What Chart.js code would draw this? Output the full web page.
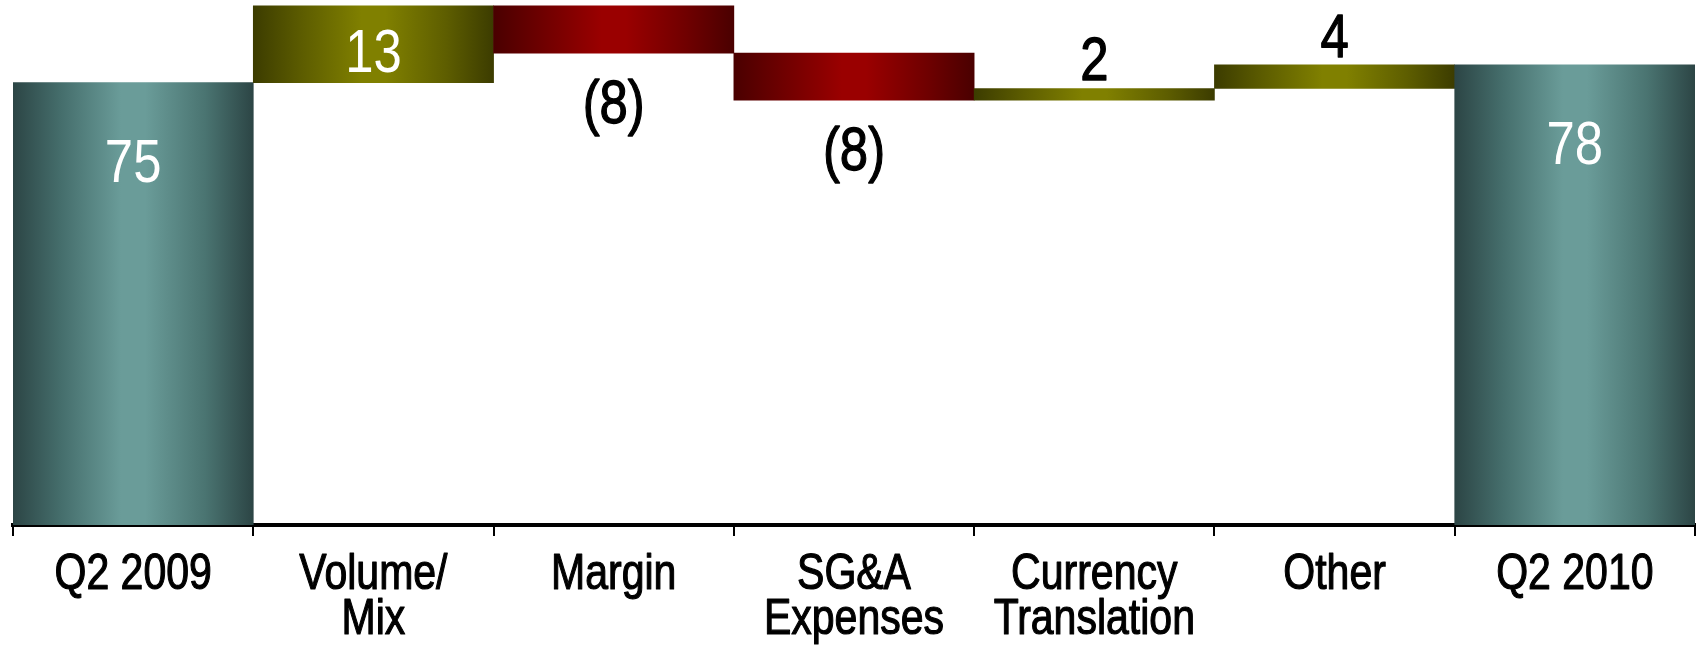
<!DOCTYPE html>
<html>
<head>
<meta charset="utf-8">
<script src="https://cdn.jsdelivr.net/npm/chart.js@4.4.1/dist/chart.umd.min.js"></script>
<style>
  html, body { margin: 0; padding: 0; background: #ffffff; }
  #wrap { width: 1698px; height: 645px; }
</style>
</head>
<body>
<div id="wrap"><canvas id="chart" width="1698" height="645"></canvas></div>
<script>
// Bridge from Q2 2009 to Q2 2010
const categories = [
  ['Q2 2009'],
  ['Volume/', 'Mix'],
  ['Margin'],
  ['SG&A', 'Expenses'],
  ['Currency', 'Translation'],
  ['Other'],
  ['Q2 2010']
];
const openingTotal = 75;
const changes = [13, -8, -8, 2, 4];
const closingTotal = 78;

// Narrow sans: Arial-metric face squeezed horizontally
const FONT = '"Liberation Sans", Arial, sans-serif';
const NARROW = 0.82;

// Floating ranges for the waterfall: totals start at zero, changes stack on the running total
const values = [openingTotal, ...changes, closingTotal];
const kinds = ['total', ...changes.map(v => (v >= 0 ? 'up' : 'down')), 'total'];
const ranges = [];
let running = openingTotal;
ranges.push([0, openingTotal]);
for (const c of changes) {
  ranges.push([running, running + c]);
  running += c;
}
ranges.push([0, closingTotal]);

const palette = {
  total: ['#2c4545', '#456e6c', '#6a9c99', '#6a9c99', '#4a7471', '#2c4545'],
  up:    ['#3c3c00', '#5c5c00', '#808000', '#808000', '#5e5e00', '#3c3c00'],
  down:  ['#4a0000', '#6e0000', '#9a0000', '#9a0000', '#700000', '#4a0000']
};
const stops = [0, 0.2, 0.45, 0.55, 0.8, 1];

function barFill(ctx) {
  const chart = ctx.chart;
  if (!chart.chartArea) return palette[kinds[ctx.dataIndex]][2];
  const xs = chart.scales.x;
  const cx = xs.getPixelForValue(ctx.dataIndex);
  const half = (xs.width / categories.length) / 2;
  const g = chart.ctx.createLinearGradient(cx - half, 0, cx + half, 0);
  const cols = palette[kinds[ctx.dataIndex]];
  stops.forEach((s, i) => g.addColorStop(s, cols[i]));
  return g;
}

function labelText(v) {
  return v < 0 ? '(' + Math.abs(v) + ')' : String(v);
}

// Squeezed text, optionally thickened with a thin outline of the same colour
function narrowText(ctx, text, x, y, weight) {
  ctx.save();
  ctx.translate(x, y);
  ctx.scale(NARROW, 1);
  ctx.fillText(text, 0, 0);
  if (weight) {
    ctx.strokeStyle = ctx.fillStyle;
    ctx.lineWidth = weight;
    ctx.lineJoin = 'round';
    ctx.strokeText(text, 0, 0);
  }
  ctx.restore();
}

// Value labels: totals inside near the top, gains above, losses below
const valueLabels = {
  id: 'valueLabels',
  afterDatasetsDraw(chart) {
    const ctx = chart.ctx;
    const meta = chart.getDatasetMeta(0);
    const digitH = 44.5;
    ctx.save();
    ctx.font = '62px ' + FONT;
    ctx.textAlign = 'center';
    ctx.textBaseline = 'alphabetic';
    meta.data.forEach((bar, i) => {
      const top = Math.min(bar.y, bar.base);
      const bottom = Math.max(bar.y, bar.base);
      const v = values[i];
      let y, color;
      if (kinds[i] === 'total') {
        y = top + 99; color = '#ffffff';
      } else if (v < 0) {
        y = bottom + 25 + digitH; color = '#000000';
      } else if (top - 8 - digitH < chart.chartArea.top) {
        y = (top + bottom) / 2 + 28; color = '#ffffff';
      } else {
        y = top - 8; color = '#000000';
      }
      ctx.fillStyle = color;
      narrowText(ctx, labelText(v), bar.x, y, color === '#000000' ? 1.3 : 0);
    });
    ctx.restore();
  }
};

// Category names under the axis, one line per entry
const categoryLabels = {
  id: 'categoryLabels',
  afterDraw(chart) {
    const ctx = chart.ctx;
    const xs = chart.scales.x;
    const firstBaseline = xs.top + 64;
    const lineGap = 45;
    ctx.save();
    ctx.font = '50px ' + FONT;
    ctx.fillStyle = '#000000';
    ctx.textAlign = 'center';
    ctx.textBaseline = 'alphabetic';
    categories.forEach((lines, i) => {
      const x = xs.getPixelForTick(i);
      lines.forEach((line, j) => narrowText(ctx, line, x, firstBaseline + j * lineGap, 1.2));
    });
    ctx.restore();
  }
};

new Chart(document.getElementById('chart'), {
  type: 'bar',
  data: {
    labels: categories,
    datasets: [{
      data: ranges,
      backgroundColor: barFill,
      borderWidth: 0,
      barPercentage: 1,
      categoryPercentage: 1
    }]
  },
  options: {
    responsive: false,
    animation: false,
    devicePixelRatio: 1,
    layout: { padding: { left: 13, right: 3, top: 0, bottom: 0 } },
    plugins: { legend: { display: false }, tooltip: { enabled: false } },
    scales: {
      x: {
        offset: true,
        grid: {
          offset: true,
          drawOnChartArea: false,
          drawTicks: true,
          tickLength: 11,
          color: '#000000',
          lineWidth: 2
        },
        border: { display: true, color: '#000000', width: 4 },
        ticks: { display: false, autoSkip: false },
        afterFit(scale) { scale.height = 120; }
      },
      y: {
        display: false,
        min: 0,
        max: 89
      }
    }
  },
  plugins: [valueLabels, categoryLabels]
});
</script>
</body>
</html>
